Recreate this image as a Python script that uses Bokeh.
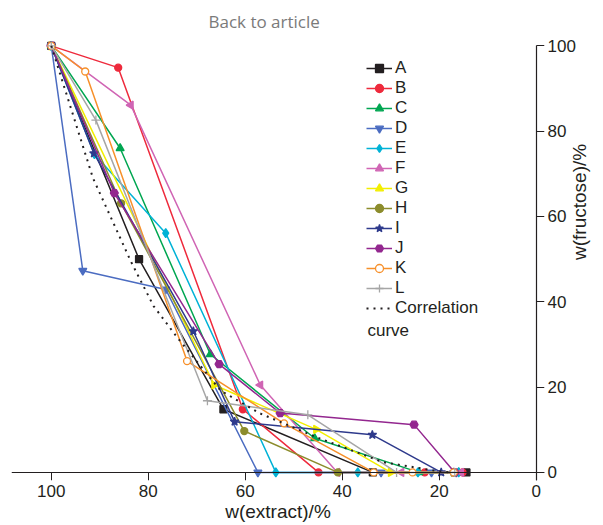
from bokeh.plotting import figure
from bokeh.models import Range1d, Legend, LegendItem, Label, LinearAxis, FixedTicker
from bokeh.embed import file_html
from bokeh.resources import INLINE
import math

# ---- data ----
A_x = [100, 81.9, 64.5, 33.7, 14.4]
A_y = [100, 50.0, 14.8, 0, 0]
B_x = [100, 86.2, 60.5, 44.9, 23.0, 15.2]
B_y = [100, 94.9, 14.8, 0, 0, 0]
C_x = [100, 85.8, 67.2, 45.7, 24.2, 16.0]
C_y = [100, 76.0, 27.7, 8.0, 0, 0]
D_x = [100, 93.5, 76.4, 57.4, 32.0, 21.6, 16.5]
D_y = [100, 47.3, 42.9, 0, 0, 0, 0]
E_x = [100, 91.1, 76.4, 53.7, 36.8, 24.4, 16.0]
E_y = [100, 74.6, 56.1, 0, 0, 0, 0]
F_x = [100, 83.6, 56.9, 41.0, 27.8, 15.5]
F_y = [100, 86.1, 20.5, 0, 0, 0]
G_x = [100, 66.4, 45.4, 30.0, 17.0]
G_y = [100, 20.5, 10.1, 0, 0]
H_x = [100, 85.6, 60.2, 40.9, 17.0]
H_y = [100, 63.1, 9.7, 0, 0]
I_x = [100, 91.2, 70.7, 62.2, 33.8, 19.6, 17.0]
I_y = [100, 74.8, 33.1, 11.9, 8.8, 0, 0]
J_x = [100, 87.0, 65.4, 52.8, 25.2, 16.8]
J_y = [100, 65.5, 25.4, 13.9, 11.2, 0]
K_x = [100, 93.0, 72.0, 52.0, 33.5, 25.5, 17.0]
K_y = [100, 94.0, 26.1, 11.5, 0, 0, 0]
L_x = [100, 90.8, 67.8, 47.1, 28.8, 16.8]
L_y = [100, 82.6, 16.8, 13.5, 0, 0]
corr_x = [100, 91.4, 83.6, 78.9, 74.0, 65.1, 56.9, 45.2, 31.6, 21.4, 18.0]
corr_y = [100, 69.0, 49.5, 39.0, 31.6, 19.2, 13.8, 8.2, 2.4, 0.5, 0]

x_ticks = [100, 80, 60, 40, 20, 0]
y_ticks = [0, 20, 40, 60, 80, 100]

names = ["A", "B", "C", "D", "E", "F", "G", "H", "I", "J", "K", "L"]
xs = [A_x, B_x, C_x, D_x, E_x, F_x, G_x, H_x, I_x, J_x, K_x, L_x]
ys = [A_y, B_y, C_y, D_y, E_y, F_y, G_y, H_y, I_y, J_y, K_y, L_y]
colors = ["#231f20", "#ee2a3c", "#00a651", "#4b6cc1", "#00b2d6", "#d065b4",
          "#f2ee00", "#8c8c2c", "#2e3a8c", "#93278f", "#f7902a", "#a6a6a6"]
markers = ["square", "circle", "triangle", "inverted_triangle", "diamond", "triangle",
           "triangle", "circle", "star", "hex", "circle", "cross"]
angles = [0, 0, 0, 0, 0, math.pi / 2, -math.pi / 2, 0, 0, 0, 0, 0]
sizes = [7, 7, 8, 8, 9, 8, 8, 7, 9, 8, 7, 9]

FONT = "Liberation Sans"
TXT = "#231f20"

p = figure(width=603, height=525, output_backend="svg", toolbar_location=None,
           x_range=Range1d(108.2, -1.7), y_range=Range1d(-1.9, 101.5),
           y_axis_location="right",
           min_border_left=11, min_border_top=38, min_border_right=59, min_border_bottom=45)
p.outline_line_color = None
p.xgrid.visible = False
p.ygrid.visible = False

p.title.text = "Back to article"
p.title.text_color = "#7a7a7a"
p.title.text_font = "Open Sans"
p.title.text_font_size = "17px"
p.title.text_font_style = "normal"
p.title.align = "left"
p.title.offset = 197
p.title.standoff = 14

# axis lines + ticks crossing at the origin (their labels come from the axes below)
for ax in (p.xaxis[0], p.yaxis[0]):
    ax.fixed_location = 0
    ax.axis_line_color = TXT
    ax.axis_line_width = 1.2
    ax.major_tick_line_color = TXT
    ax.major_tick_out = 8
    ax.major_tick_in = 0
    ax.minor_tick_line_color = None
    ax.major_label_text_color = None
    ax.major_label_text_font_size = "1px"
    ax.major_label_standoff = 0
    ax.axis_label_standoff = 0

p.xaxis[0].ticker = x_ticks
p.yaxis[0].ticker = y_ticks
p.xaxis[0].bounds = (-1.7, 108.2)
p.yaxis[0].bounds = (-1.9, 100)

# label-only axes in the side panels
def label_axis(ticks, title, **kw):
    ax = LinearAxis(ticker=FixedTicker(ticks=ticks), axis_label=title,
                    axis_line_color=None, major_tick_line_color=None,
                    minor_tick_line_color=None, major_tick_out=0, major_tick_in=0,
                    major_label_text_font=FONT, major_label_text_font_size="17px",
                    major_label_text_color=TXT, axis_label_text_font=FONT,
                    axis_label_text_font_size="19px", axis_label_text_font_style="normal",
                    axis_label_text_color=TXT, **kw)
    return ax

xlab = label_axis(x_ticks, "w(extract)/%", major_label_standoff=4, axis_label_standoff=1)
ylab = label_axis(y_ticks, "w(fructose)/%", major_label_standoff=3, axis_label_standoff=1,
                  axis_label_orientation=math.pi / 2)
p.add_layout(xlab, "below")
p.add_layout(ylab, "right")

items = []
for n, x, y, c, m, a, s in zip(names, xs, ys, colors, markers, angles, sizes):
    ln = p.line(x, y, line_color=c, line_width=1.5)
    fill = "white" if n == "K" else c
    sc = p.scatter(x, y, marker=m, size=s, angle=a, line_color=c, fill_color=fill,
                   line_width=1.3)
    items.append(LegendItem(label=n, renderers=[ln, sc]))

cl = p.line(corr_x, corr_y, line_color="#231f20", line_width=2, line_dash="2 5")
items.append(LegendItem(label="Correlation", renderers=[cl]))

legend = Legend(items=items, location=(355, 162), padding=0, margin=0, spacing=0,
                label_height=20, glyph_height=20, glyph_width=26, label_standoff=3,
                label_text_font=FONT, label_text_font_size="17px",
                label_text_color=TXT, border_line_color=None,
                background_fill_alpha=0)
p.add_layout(legend)

p.add_layout(Label(x=356, y=150, x_units="screen", y_units="screen", text="curve",
                   text_font=FONT, text_font_size="17px", text_color=TXT,
                   text_baseline="middle"))

open("out.html", "w").write(file_html(p, INLINE))
